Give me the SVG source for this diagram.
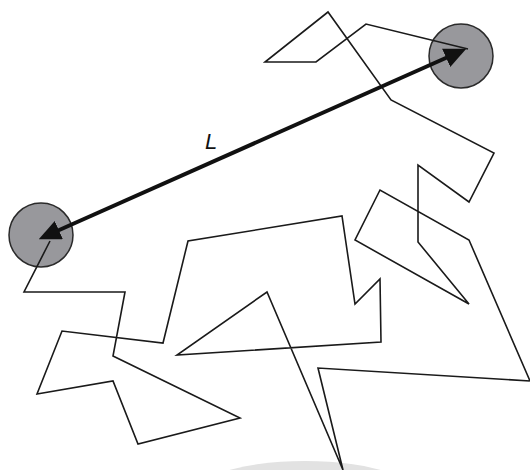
<svg xmlns="http://www.w3.org/2000/svg" width="530" height="470" viewBox="0 0 530 470">
<style>
.end{fill:#98989c;stroke:#2a2a2a;stroke-width:1.5}
.chain{fill:none;stroke:#1a1a1a;stroke-width:1.6;stroke-linejoin:miter}
.vec{stroke:#111;stroke-width:4;fill:none}
.lbl{font-family:"Liberation Sans",Arial,sans-serif;font-style:italic;font-size:22px;fill:#111}
</style>
<defs>
<marker id="ah" viewBox="0 0 22 20" refX="2" refY="10" markerWidth="22" markerHeight="20" markerUnits="userSpaceOnUse" orient="auto-start-reverse">
<path d="M0,0 L22,10 L0,20 Z" fill="#111"/>
</marker>
</defs>
<rect width="530" height="470" fill="#fff"/>
<ellipse cx="305" cy="505" rx="125" ry="44" fill="#e2e2e2"/>
<g id="end-left"><circle class="end" cx="41" cy="235" r="32"/></g>
<g id="end-right"><circle class="end" cx="461" cy="56" r="32"/></g>
<g id="chain">
<polyline class="chain" points="50,241 24,292 125,292 113,356 240,418 138,444 113,381 37,394 62,331 163,343 188,241 342,216 355,304 380,279 381,342 177,355 267,292 343,470 318,368 530,381 469,240 380,190 355,240 469,304 418,242 418,165 469,202 494,153 391,100 328,12 265,62 316,62 366,24 468,49"/>
</g>
<g id="connectors">
<line class="vec" x1="57" y1="231" x2="448" y2="57" marker-start="url(#ah)" marker-end="url(#ah)"/>
</g>
<g id="label"><text class="lbl" x="205" y="149">L</text></g>
</svg>
